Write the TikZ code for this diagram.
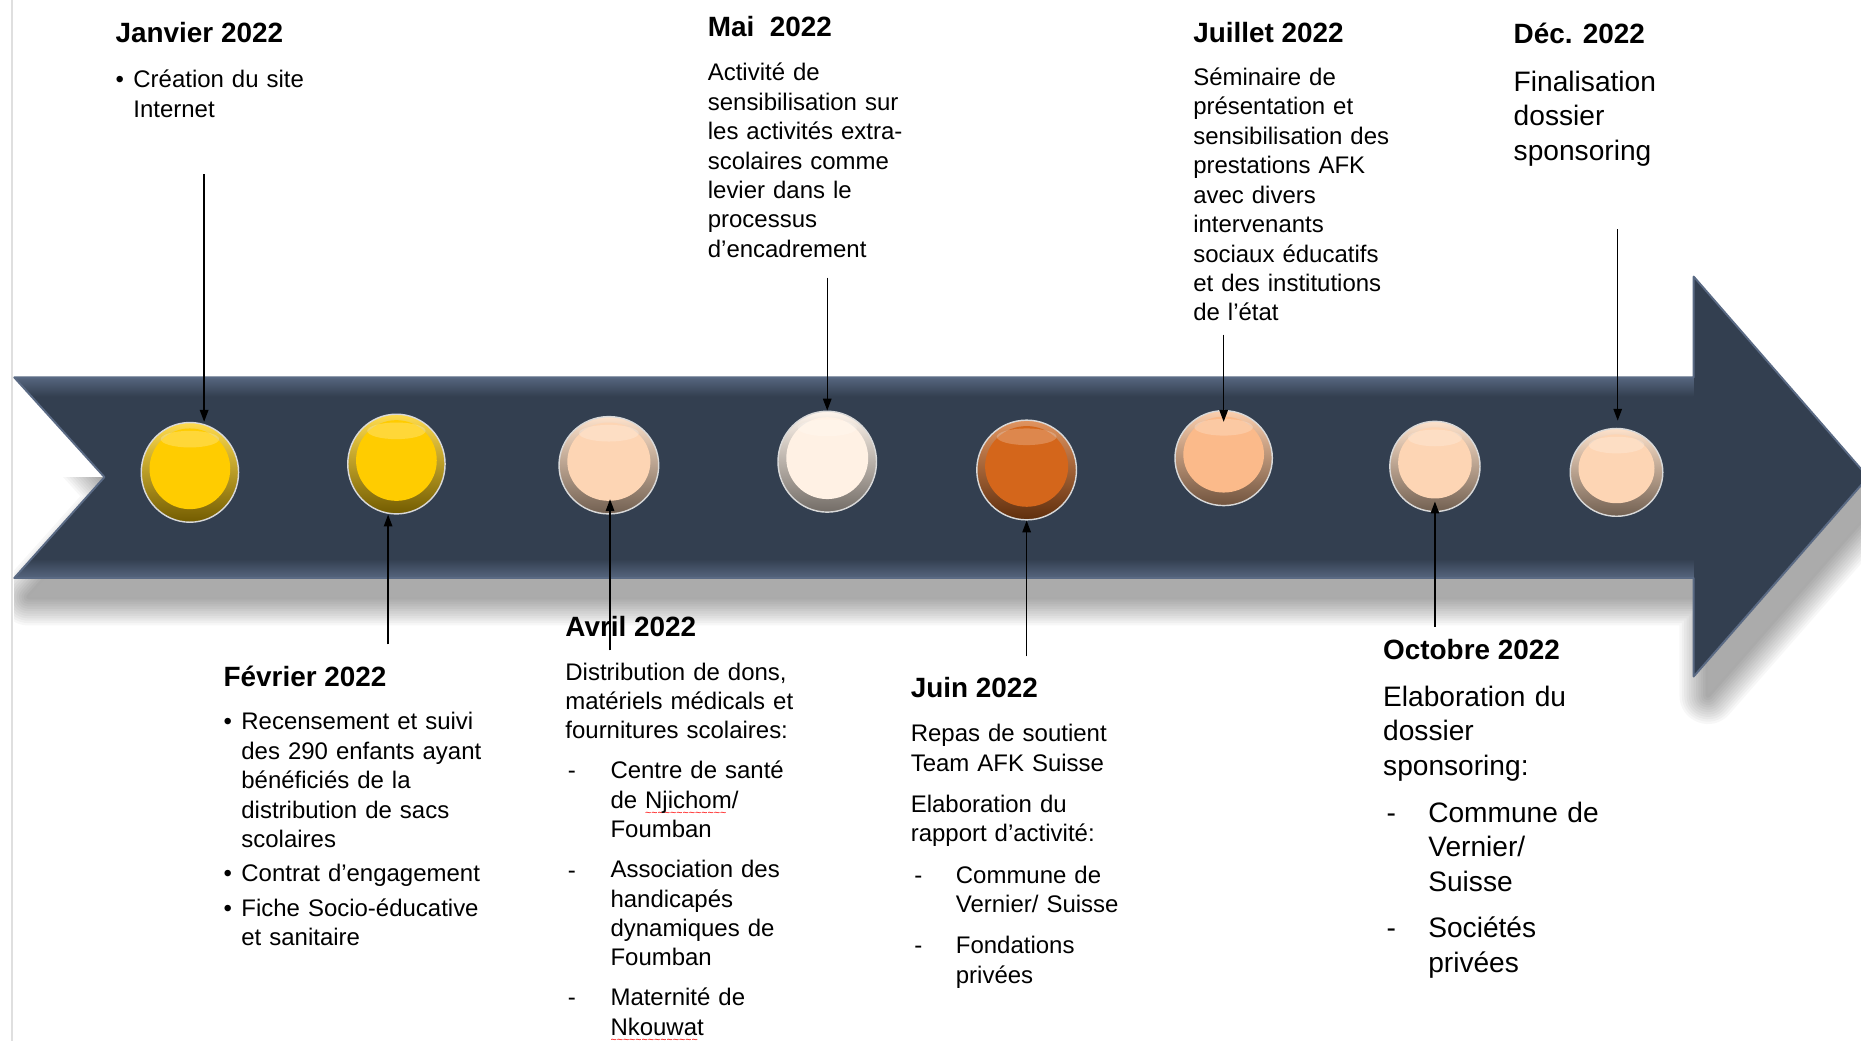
\documentclass[tikz,border=0pt]{standalone}
\usepackage{fontspec}
\setmainfont{Liberation Sans}
\usetikzlibrary{arrows.meta,shapes.geometric,calc}

\definecolor{bandblue}{HTML}{333F50}
\definecolor{bandedge}{HTML}{5A6A84}
\definecolor{gold}{HTML}{FFCC00}
\definecolor{peach}{HTML}{FDD5B4}
\definecolor{cream}{HTML}{FFF1E4}
\definecolor{rust}{HTML}{D4661B}
\definecolor{apricot}{HTML}{FBBA8A}

\newcommand{\bodyfont}{\fontsize{10.1pt}{12.4pt}\selectfont}
\newcommand{\bigfont}{\fontsize{11.85pt}{14.5pt}\selectfont}
\newcommand{\titlefont}{\fontsize{11.75pt}{14pt}\selectfont\bfseries}
% red wavy line of the spell checker
\newcommand{\spellerr}[1]{\setbox0\hbox{#1}\leavevmode\rlap{\color{red}\raisebox{-3.4pt}[0pt][0pt]{\hbox to\wd0{\fontsize{4.5pt}{5pt}\selectfont\leaders\hbox{\char"7E}\hfill}}}\box0}
\newcommand{\bandshape}{(12,318) -- (1427,318) -- (1427,233) -- (1574,402) -- (1427,570) -- (1427,487) -- (12,487) -- (88,402) -- cycle}

\tikzset{
  title/.style={anchor=base west, inner sep=0pt, font=\titlefont},
  txt/.style={anchor=base west, inner sep=0pt, text width=200pt, align=left, font=\bodyfont},
  big/.style={txt, font=\bigfont},
  itemmark/.style={anchor=base west, inner sep=0pt, font=\bodyfont},
  pointer/.style={-{Triangle[length=5pt,width=3.6pt]}, line width=0.55pt, black},
  button/.style={ellipse, inner sep=0pt, draw=white!70!gray, line width=0.6pt,
    top color=#1!70!white, bottom color=#1!45!black,
    path picture={
      \fill[#1] ([yshift=1.5pt]path picture bounding box.center)
        ellipse [x radius=\w*0.5pt-3.5pt, y radius=\h*0.5pt-4pt];
      \fill[white, opacity=0.22] ([yshift=\h*0.5pt-7pt]path picture bounding box.center)
        ellipse [x radius=\w*0.3pt, y radius=3.5pt];
    }},
}

\begin{document}
\begin{tikzpicture}[x=0.5pt, y=-0.5pt]
  \fill[white] (0,0) rectangle (1568,877);
  \useasboundingbox (0,0) rectangle (1568,877);
  \draw[gray!25, line width=1pt] (10,0) -- (10,877);

  % shadow of the band, only below it
  \begin{scope}
    \clip (12,402) rectangle (1600,900);
    \begin{scope}[shift={(12,16)}]
      \foreach \lw in {24,22,...,2}
        \draw[line width=\lw pt, black, opacity=0.03, line join=round] \bandshape;
      \fill[black!33] \bandshape;
    \end{scope}
  \end{scope}

  % band
  \fill[bandblue] \bandshape;
  \begin{scope}
    \clip \bandshape;
    \shade[top color=bandedge, bottom color=bandblue] (0,316) rectangle (1427,334);
    \shade[top color=bandblue, bottom color=bandedge] (0,471) rectangle (1427,489);
  \end{scope}
  \draw[bandedge, line width=0.8pt, line join=round] \bandshape;

  % buttons
  \foreach \nm/\x/\y/\w/\h/\clr in {jan/160/398/41/42/gold, feb/334/391/41/42/gold,
      avr/513/392/42/41/peach, mai/697/389/41.5/42.5/cream, juin/865/396/42/42/rust,
      juil/1031/386/41/40/apricot, oct/1209/393/38/38/peach, dec/1362/398/39/37/peach}
    \node[button=\clr, minimum width=\w pt, minimum height=\h pt] (\nm) at (\x,\y) {};

  % top row
  \node[title] (janT) at (97,36) {Janvier 2022};
  \node[itemmark] (janB) at (97,74) {•};
  \node[txt] (janX) at (112,74) {Création du site\\Internet};

  \node[title] (maiT) at (596,31) {Mai\ \ 2022};
  \node[txt] (maiX) at (596,68) {Activité de\\sensibilisation sur\\les activités extra-\\scolaires comme\\levier dans le\\processus\\d’encadrement};

  \node[title] (juilT) at (1005,36) {Juillet 2022};
  \node[txt] (juilX) at (1005,72) {Séminaire de\\présentation et\\sensibilisation des\\prestations AFK\\avec divers\\intervenants\\sociaux éducatifs\\et des institutions\\de l’état};

  \node[title] (decT) at (1275,37) {Déc. 2022};
  \node[big] (decX) at (1275,77) {Finalisation\\dossier\\sponsoring};

  % bottom row
  \node[title] (fevT) at (188,578) {Février 2022};
  \node[itemmark] (fevB1) at (188,615) {•};
  \node[itemmark] (fevB2) at (188,743) {•};
  \node[itemmark] (fevB3) at (188,772) {•};
  \node[txt] (fevX) at (203,615) {Recensement et suivi\\des 290 enfants ayant\\bénéficiés de la\\distribution de sacs\\scolaires\\[2pt]Contrat d’engagement\\[2pt]Fiche Socio-éducative\\et sanitaire};

  \node[title] (avrT) at (476,536) {Avril 2022};
  \node[txt] (avrX) at (476,573) {Distribution de dons,\\matériels médicals et\\fournitures scolaires:};
  \node[itemmark] (avrD1) at (478,656) {-};
  \node[itemmark] (avrD2) at (478,740) {-};
  \node[itemmark] (avrD3) at (478,847) {-};
  \node[txt] (avrL) at (514,656) {Centre de santé\\de \spellerr{Njichom}/\\Foumban\\[4.5pt]Association des\\handicapés\\dynamiques de\\Foumban\\[4.5pt]Maternité de\\\spellerr{Nkouwat}};

  \node[title] (juinT) at (767,588) {Juin 2022};
  \node[txt] (juinX) at (767,625) {Repas de soutient\\Team AFK Suisse\\[5pt]Elaboration du\\rapport d’activité:};
  \node[itemmark] (juinD1) at (770,744) {-};
  \node[itemmark] (juinD2) at (770,803) {-};
  \node[txt] (juinL) at (805,744) {Commune de\\Vernier/ Suisse\\[5pt]Fondations\\privées};

  \node[title] (octT) at (1165,556) {Octobre 2022};
  \node[big] (octX) at (1165,595) {Elaboration du\\dossier\\sponsoring:};
  \node[itemmark, font=\bigfont] (octD1) at (1168,693) {-};
  \node[itemmark, font=\bigfont] (octD2) at (1168,790) {-};
  \node[big] (octL) at (1203,693) {Commune de\\Vernier/\\Suisse\\[5pt]Sociétés\\privées};

  % pointers
  \coordinate (janS) at (172,147);
  \coordinate (febS) at (327,543);
  \coordinate (avrS) at (514,548);
  \coordinate (maiS) at (697,234);
  \coordinate (juinS) at (865,553);
  \coordinate (juilS) at (1031,282);
  \coordinate (octS) at (1209,528);
  \coordinate (decS) at (1363,193);
  \draw[pointer] (janS) -- (janS |- jan.north);
  \draw[pointer] (febS) -- (febS |- feb.south);
  \draw[pointer, shorten >=-6.5pt] (avrS) -- (avrS |- avr.south);
  \draw[pointer] (maiS) -- (maiS |- mai.north);
  \draw[pointer] (juinS) -- (juinS |- juin.south);
  \draw[pointer, shorten >=-5pt] (juilS) -- (juilS |- juil.north);
  \draw[pointer, shorten >=-4.5pt] (octS) -- (octS |- oct.south);
  \draw[pointer, shorten >=3pt] (decS) -- (decS |- dec.north);
\end{tikzpicture}
\end{document}
